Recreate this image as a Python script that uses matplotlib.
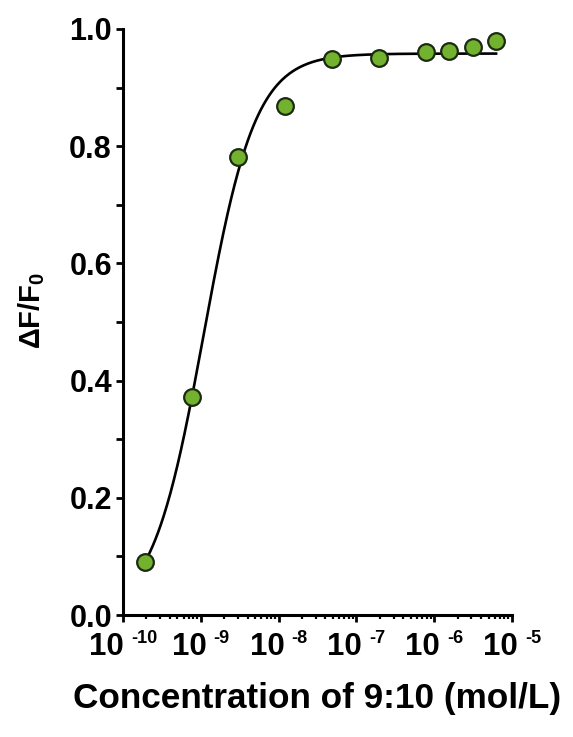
import numpy as np
import matplotlib
matplotlib.use("Agg")
import matplotlib.pyplot as plt
from matplotlib.ticker import LogLocator, FixedLocator, NullFormatter
from matplotlib.transforms import blended_transform_factory, ScaledTranslation

plt.rcParams['font.family'] = ['Liberation Sans', 'DejaVu Sans']
plt.rcParams['font.weight'] = 'bold'
plt.rcParams['mathtext.fontset'] = 'custom'
plt.rcParams['mathtext.rm'] = 'Liberation Sans:bold'
plt.rcParams['mathtext.bf'] = 'Liberation Sans:bold'
plt.rcParams['mathtext.it'] = 'Liberation Sans:bold'

# Data
conc = [1.91e-10, 7.63e-10, 3.05e-9, 1.22e-8, 4.88e-8, 1.95e-7, 7.81e-7, 1.56e-6, 3.13e-6, 6.25e-6]
dF = [0.090, 0.372, 0.781, 0.868, 0.949, 0.951, 0.961, 0.963, 0.970, 0.980]

# Fitted dose-response curve parameters
fit_bottom = 0.0
fit_top = 0.958
fit_ec50 = 1.09e-9
fit_hill = 1.30

xticks = [1e-10, 1e-9, 1e-8, 1e-7, 1e-6, 1e-5]
xtick_base = '10'
xtick_exps = ['-10', '-9', '-8', '-7', '-6', '-5']
yticks = [0.0, 0.2, 0.4, 0.6, 0.8, 1.0]
ytick_labels = ['0.0', '0.2', '0.4', '0.6', '0.8', '1.0']

fig = plt.figure(figsize=(5.73, 7.37), dpi=100)
ax = fig.add_axes([0.2147, 0.1655, 0.6788, 0.7952])

xc = np.logspace(np.log10(conc[0]), np.log10(conc[-1]), 400)
yc = fit_bottom + (fit_top - fit_bottom) / (1 + (fit_ec50 / xc) ** fit_hill)
ax.plot(xc, yc, color='black', lw=1.9, zorder=2)
ax.plot(conc, dF, 'o', ms=12, mfc='#72b22f', mec='#1c2a12', mew=1.6, zorder=3, clip_on=False)

ax.set_xscale('log')
ax.set_xlim(1e-10, 1e-5)
ax.set_ylim(0, 1.0)

ax.set_xticks(xticks)
ax.set_xticklabels([''] * len(xticks))
ax.xaxis.set_minor_locator(LogLocator(base=10, subs=np.arange(2, 10), numticks=20))
ax.xaxis.set_minor_formatter(NullFormatter())
ax.set_yticks(yticks)
ax.set_yticklabels(ytick_labels)
ax.yaxis.set_minor_locator(FixedLocator([0.1, 0.3, 0.5, 0.7, 0.9]))

for s in ['top', 'right']:
    ax.spines[s].set_visible(False)
for s in ['left', 'bottom']:
    ax.spines[s].set_linewidth(2.2)

ax.tick_params(axis='both', which='major', direction='out', length=5, width=2.0, labelsize=22, pad=3)
ax.tick_params(axis='y', which='minor', direction='out', length=5, width=2.0)
ax.tick_params(axis='x', which='minor', direction='out', length=3, width=1.6)
for lab in ax.get_yticklabels():
    lab.set_fontweight('bold')

# x tick labels: "10" with a small raised exponent, group centred on each tick
trans = blended_transform_factory(ax.transData, ax.transAxes)
base_dy = -12.0 / 72
exp_dy = -11.0 / 72
base_texts, exp_texts = [], []
for xv, e in zip(xticks, xtick_exps):
    tb = ax.text(xv, 0, xtick_base, transform=trans + ScaledTranslation(0, base_dy, fig.dpi_scale_trans),
                 ha='left', va='top', fontsize=22.5, fontweight='bold', clip_on=False)
    te = ax.text(xv, 0, e, transform=trans + ScaledTranslation(0, exp_dy, fig.dpi_scale_trans),
                 ha='left', va='top', fontsize=13, fontweight='bold', clip_on=False)
    base_texts.append(tb)
    exp_texts.append(te)

fig.canvas.draw()
r = fig.canvas.get_renderer()
gap = 7  # px
for tb, te in zip(base_texts, exp_texts):
    wb = tb.get_window_extent(r).width
    we = te.get_window_extent(r).width
    total = wb + gap + we
    dx_b = -total / 2
    dx_e = -total / 2 + wb + gap
    tb.set_transform(trans + ScaledTranslation(dx_b / fig.dpi, base_dy, fig.dpi_scale_trans))
    te.set_transform(trans + ScaledTranslation(dx_e / fig.dpi, exp_dy, fig.dpi_scale_trans))

ax.set_ylabel(r'$\mathbf{\Delta F/F_0}$', fontsize=21)
ax.yaxis.set_label_coords(-0.195, 0.52)
ax.set_xlabel('Concentration of 9:10 (mol/L)', fontsize=25.3, fontweight='bold', labelpad=40)

fig.savefig('out.png', dpi=100)
